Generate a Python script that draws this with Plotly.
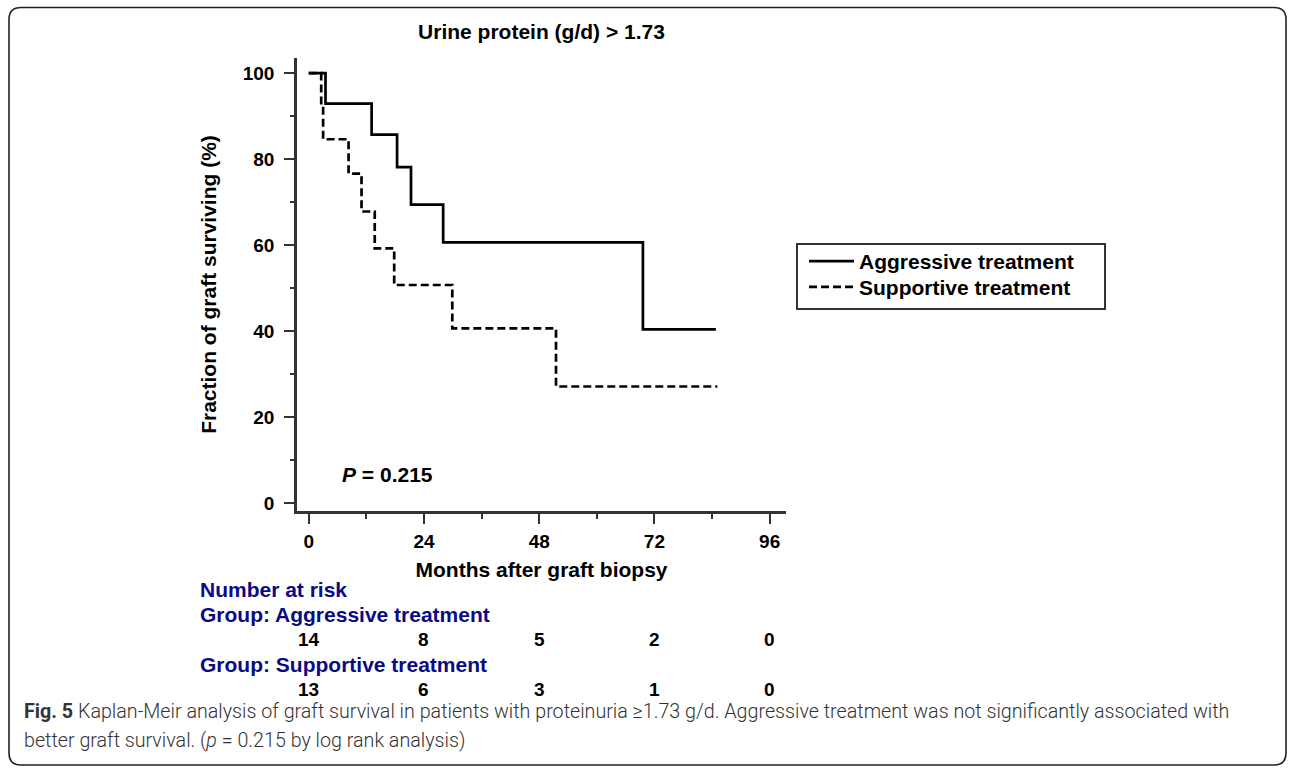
import plotly.graph_objects as go

# ---------------- data ----------------
agg_months = [0, 3.5, 13.1, 18.4, 21.3, 28.0, 69.6, 84.8]
agg_surv = [100, 92.9, 85.7, 78.1, 69.4, 60.6, 40.4, 40.4]

sup_months = [0, 2.6, 3.0, 8.3, 11.0, 13.75, 17.8, 29.9, 51.5, 85.1]
sup_surv = [100, 92.3, 84.6, 76.6, 67.8, 59.2, 50.7, 40.6, 27.1, 27.1]

risk_times = [0, 24, 48, 72, 96]
risk_agg = [14, 8, 5, 2, 0]
risk_sup = [13, 6, 3, 1, 0]

x_ticks = [0, 24, 48, 72, 96]
x_minor = [12, 36, 60, 84]
y_ticks = [0, 20, 40, 60, 80, 100]
y_minor = [10, 30, 50, 70, 90]

p_value_text = "<i>P</i> = 0.215"
group_names = ["Aggressive treatment", "Supportive treatment"]

# ---------------- layout geometry ----------------
W, H = 1292, 770
L, R, T, B = 297, 786, 58, 511


def px(xp):
    return (xp - L) / (R - L)


def py(yp):
    return (B - yp) / (B - T)


FONT = "Liberation Sans, Arial, sans-serif"
AXC = "#333333"
NAVY = "#0a0a84"

fig = go.Figure()
fig.add_trace(go.Scatter(
    x=agg_months, y=agg_surv, mode="lines", name=group_names[0], legend="legend",
    line=dict(shape="hv", color="black", width=2.7)))
fig.add_trace(go.Scatter(
    x=sup_months, y=sup_surv, mode="lines", name=group_names[1], legend="legend2",
    line=dict(shape="hv", color="black", width=2.7, dash="8px,4px")))

axis_common = dict(
    showline=True, linecolor=AXC, linewidth=2.5, mirror=False,
    ticks="outside", ticklen=10, tickwidth=2, tickcolor=AXC,
    showgrid=False, zeroline=False,
    tickfont=dict(family=FONT, size=19, color="black", weight="bold"),
)

fig.update_xaxes(
    range=[-2.44, 99.4], tickvals=x_ticks,
    minor=dict(tickvals=x_minor, ticks="outside", ticklen=5, tickwidth=2, tickcolor=AXC),
    title=dict(text="Months after graft biopsy", standoff=12,
               font=dict(family=FONT, size=21, color="black", weight="bold")),
    ticklabelstandoff=1,
    **axis_common)
fig.update_yaxes(
    range=[-1.86, 103.5], tickvals=y_ticks,
    minor=dict(tickvals=y_minor, ticks="outside", ticklen=4, tickwidth=2, tickcolor=AXC),
    title=dict(text="Fraction of graft surviving (%)", standoff=21,
               font=dict(family=FONT, size=21, color="black", weight="bold")),
    ticklabelstandoff=6,
    **axis_common)

annotations = []
annotations.append(dict(x=6.5, y=6.7, xref="x", yref="y", xanchor="left", yanchor="middle",
                        text=p_value_text, showarrow=False,
                        font=dict(family=FONT, size=21, color="black", weight="bold")))

# number at risk table
annotations.append(dict(x=px(198), y=py(589.3), xref="paper", yref="paper", xanchor="left",
                        yanchor="middle", text="Number at risk", showarrow=False,
                        font=dict(family=FONT, size=21, color=NAVY, weight="bold")))
annotations.append(dict(x=px(198), y=py(614.3), xref="paper", yref="paper", xanchor="left",
                        yanchor="middle", text="Group: " + group_names[0], showarrow=False,
                        font=dict(family=FONT, size=21, color=NAVY, weight="bold")))
annotations.append(dict(x=px(198), y=py(664.3), xref="paper", yref="paper", xanchor="left",
                        yanchor="middle", text="Group: " + group_names[1], showarrow=False,
                        font=dict(family=FONT, size=21, color=NAVY, weight="bold")))
for t, n in zip(risk_times, risk_agg):
    annotations.append(dict(x=t, y=py(639.3), xref="x", yref="paper", xanchor="center",
                            yanchor="middle", text=str(n), showarrow=False,
                            font=dict(family=FONT, size=19, color="black", weight="bold")))
for t, n in zip(risk_times, risk_sup):
    annotations.append(dict(x=t, y=py(689.3), xref="x", yref="paper", xanchor="center",
                            yanchor="middle", text=str(n), showarrow=False,
                            font=dict(family=FONT, size=19, color="black", weight="bold")))

# caption
CAPF = "Roboto, Open Sans, sans-serif"
annotations.append(dict(
    x=px(22), y=py(711), xref="paper", yref="paper", xanchor="left", yanchor="middle",
    text="<b>Fig. 5</b> Kaplan-Meir analysis of graft survival in patients with proteinuria "
         "\u22651.73 g/d. Aggressive treatment was not significantly associated with",
    showarrow=False, font=dict(family=CAPF, size=19.7, color="#333333", weight=300)))
annotations.append(dict(
    x=px(22), y=py(740), xref="paper", yref="paper", xanchor="left", yanchor="middle",
    text="better graft survival. (<i>p</i> = 0.215 by log rank analysis)",
    showarrow=False, font=dict(family=CAPF, size=19.7, color="#333333", weight=300)))

# rounded outer frame
x0, y0, x1, y1, r = 9, 7.5, 1286, 765, 12
path = (f"M {px(x0 + r)} {py(y0)} L {px(x1 - r)} {py(y0)} "
        f"Q {px(x1)} {py(y0)} {px(x1)} {py(y0 + r)} L {px(x1)} {py(y1 - r)} "
        f"Q {px(x1)} {py(y1)} {px(x1 - r)} {py(y1)} L {px(x0 + r)} {py(y1)} "
        f"Q {px(x0)} {py(y1)} {px(x0)} {py(y1 - r)} L {px(x0)} {py(y0 + r)} "
        f"Q {px(x0)} {py(y0)} {px(x0 + r)} {py(y0)} Z")

legend_style = dict(xanchor="left", yanchor="middle", bgcolor="rgba(0,0,0,0)",
                    borderwidth=0, itemwidth=45,
                    font=dict(family=FONT, size=21, color="black", weight="bold"))

fig.update_layout(
    width=W, height=H,
    margin=dict(l=L, r=W - R, t=T, b=H - B, pad=0),
    paper_bgcolor="white", plot_bgcolor="white",
    title=dict(text="Urine protein (g/d) > 1.73", x=0.5, xref="paper",
               y=1 - 32 / H, yref="container", xanchor="center", yanchor="middle",
               font=dict(family=FONT, size=21, color="black", weight="bold")),
    showlegend=True,
    legend=dict(x=px(804), y=py(261.5), **legend_style),
    legend2=dict(x=px(804), y=py(287.2), **legend_style),
    annotations=annotations,
    shapes=[
        dict(type="path", path=path, xref="paper", yref="paper",
             line=dict(color="#222222", width=1.6), fillcolor="rgba(0,0,0,0)",
             layer="below"),
        dict(type="rect", xref="paper", yref="paper",
             x0=px(797), x1=px(1105), y0=py(309), y1=py(244),
             line=dict(color=AXC, width=2), fillcolor="rgba(0,0,0,0)", layer="below"),
    ],
)

fig.write_html("out.html")
